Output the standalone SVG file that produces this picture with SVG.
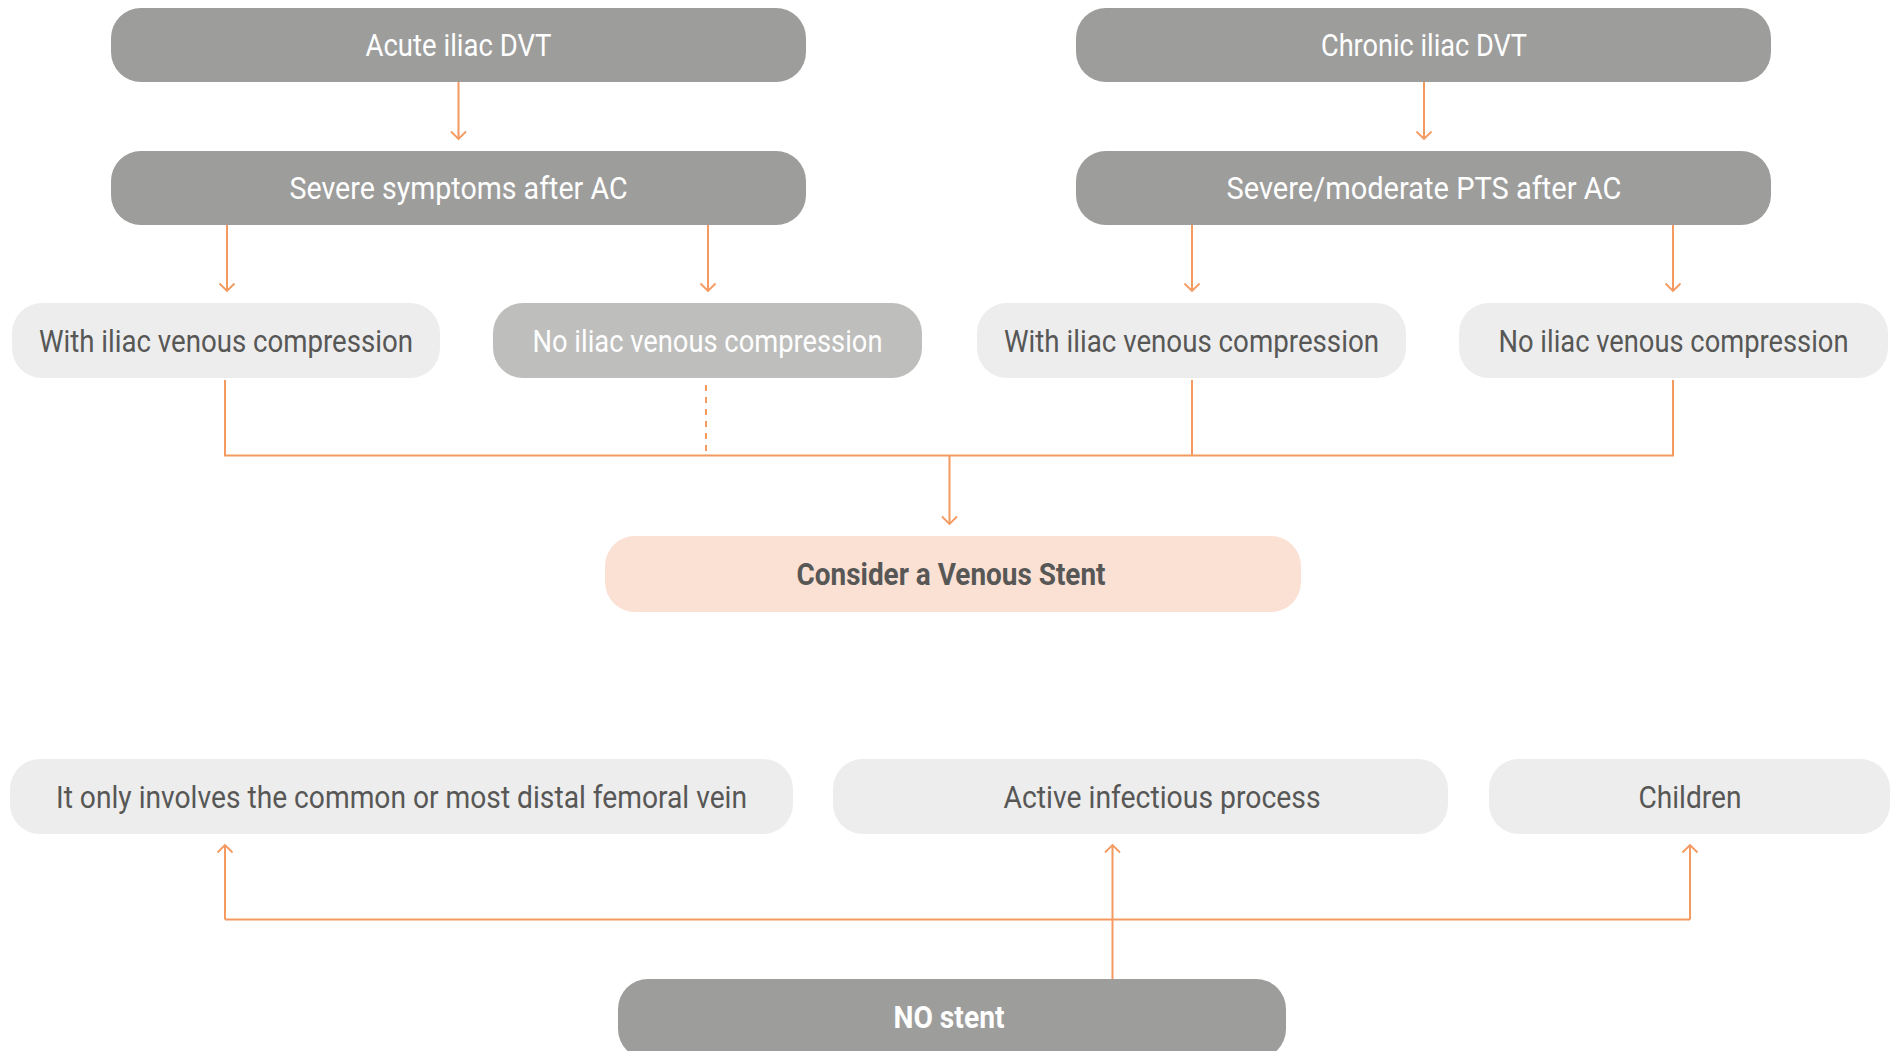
<svg xmlns="http://www.w3.org/2000/svg" width="1892" height="1051" viewBox="0 0 1892 1051">
<defs>
<marker id="arr" markerWidth="18" markerHeight="18" refX="9" refY="9" orient="auto" markerUnits="userSpaceOnUse">
<path d="M1.5,1.5 L9,9 L1.5,16.5" fill="none" stroke="#f4995f" stroke-width="1.8"/>
</marker>
<style>
.dark{fill:#9d9d9c}
.light{fill:#ededed}
.mid{fill:#bebebd}
.peach{fill:#fbe1d4}
text{font-family:Roboto,"Liberation Sans",sans-serif;font-size:31px;text-anchor:middle}
.w{fill:#ffffff}
.g{fill:#575756}
.b{font-weight:bold}
.c{fill:none;stroke:#f4995f;stroke-width:2}
.a{marker-end:url(#arr)}
</style>
</defs>
<rect width="1892" height="1051" fill="#ffffff"/>
<g id="connectors">
<line class="c a" x1="458.5" y1="82" x2="458.5" y2="139"/>
<line class="c a" x1="1424" y1="82" x2="1424" y2="139"/>
<line class="c a" x1="227" y1="224" x2="227" y2="291"/>
<line class="c a" x1="708" y1="224" x2="708" y2="291"/>
<line class="c a" x1="1192" y1="224" x2="1192" y2="291"/>
<line class="c a" x1="1673" y1="224" x2="1673" y2="291"/>
<polyline class="c" points="225,380 225,455.5 1673,455.5 1673,380"/>
<line class="c" x1="1192" y1="380" x2="1192" y2="455.5"/>
<line class="c" x1="706" y1="385" x2="706" y2="455" stroke-dasharray="6,6"/>
<line class="c a" x1="949.5" y1="455.5" x2="949.5" y2="524"/>
<polyline class="c a" points="225,919.5 225,845"/>
<line class="c" x1="225" y1="919.5" x2="1690" y2="919.5"/>
<line class="c a" x1="1690" y1="919.5" x2="1690" y2="845"/>
<line class="c a" x1="1112.5" y1="979" x2="1112.5" y2="845"/>
</g>
<g id="acute">
<rect class="dark" x="111" y="8" width="695" height="74" rx="30"/>
<text class="w" x="458.5" y="55.5" textLength="186" lengthAdjust="spacingAndGlyphs">Acute iliac DVT</text>
</g>
<g id="chronic">
<rect class="dark" x="1076" y="8" width="695" height="74" rx="30"/>
<text class="w" x="1424" y="55.5" textLength="206" lengthAdjust="spacingAndGlyphs">Chronic iliac DVT</text>
</g>
<g id="severe">
<rect class="dark" x="111" y="151" width="695" height="74" rx="30"/>
<text class="w" x="458.5" y="198.5" textLength="338" lengthAdjust="spacingAndGlyphs">Severe symptoms after AC</text>
</g>
<g id="pts">
<rect class="dark" x="1076" y="151" width="695" height="74" rx="30"/>
<text class="w" x="1424" y="198.5" textLength="395" lengthAdjust="spacingAndGlyphs">Severe/moderate PTS after AC</text>
</g>
<g id="with1">
<rect class="light" x="12" y="303" width="428" height="75" rx="30"/>
<text class="g" x="226" y="351.5" textLength="374" lengthAdjust="spacingAndGlyphs">With iliac venous compression</text>
</g>
<g id="no1">
<rect class="mid" x="493" y="303" width="429" height="75" rx="30"/>
<text class="w" x="707.5" y="351.5" textLength="350" lengthAdjust="spacingAndGlyphs">No iliac venous compression</text>
</g>
<g id="with2">
<rect class="light" x="977" y="303" width="429" height="75" rx="30"/>
<text class="g" x="1191.5" y="351.5" textLength="375" lengthAdjust="spacingAndGlyphs">With iliac venous compression</text>
</g>
<g id="no2">
<rect class="light" x="1459" y="303" width="429" height="75" rx="30"/>
<text class="g" x="1673.5" y="351.5" textLength="350" lengthAdjust="spacingAndGlyphs">No iliac venous compression</text>
</g>
<g id="consider">
<rect class="peach" x="605" y="536" width="696" height="76" rx="30"/>
<text class="g b" x="951" y="584.5" textLength="309" lengthAdjust="spacingAndGlyphs">Consider a Venous Stent</text>
</g>
<g id="femoral">
<rect class="light" x="10" y="759" width="783" height="75" rx="30"/>
<text class="g" x="401.5" y="807.5" textLength="691" lengthAdjust="spacingAndGlyphs">It only involves the common or most distal femoral vein</text>
</g>
<g id="infectious">
<rect class="light" x="833" y="759" width="615" height="75" rx="30"/>
<text class="g" x="1162" y="807.5" textLength="317" lengthAdjust="spacingAndGlyphs">Active infectious process</text>
</g>
<g id="children">
<rect class="light" x="1489" y="759" width="401" height="75" rx="30"/>
<text class="g" x="1690" y="807.5" textLength="103" lengthAdjust="spacingAndGlyphs">Children</text>
</g>
<g id="nostent">
<rect class="dark" x="618" y="979" width="668" height="80" rx="30"/>
<text class="w b" x="949" y="1027.5" textLength="111" lengthAdjust="spacingAndGlyphs">NO stent</text>
</g>
</svg>
